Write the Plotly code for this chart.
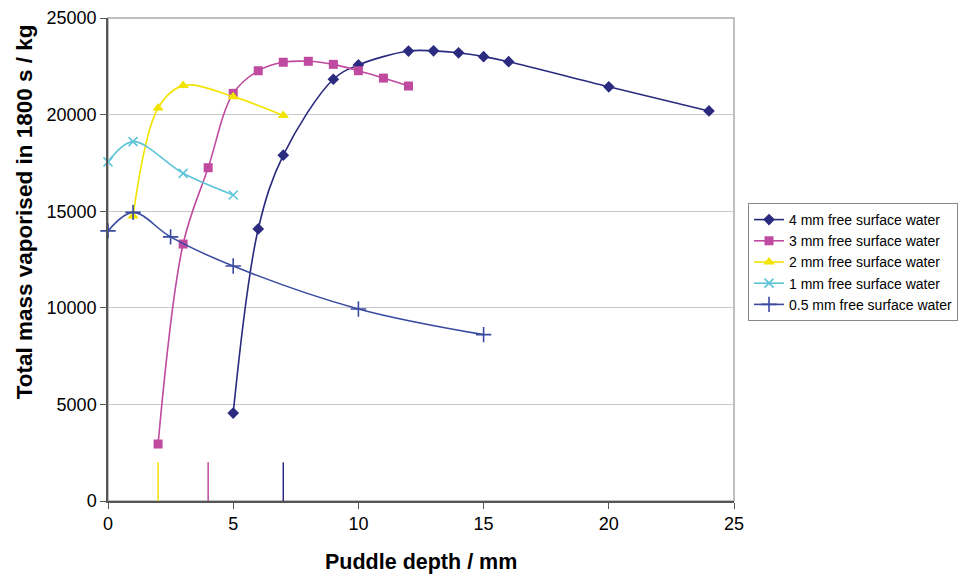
import plotly.graph_objects as go

# Data
x_4mm = [5, 6, 7, 9, 10, 12, 13, 14, 15, 16, 20, 24]
y_4mm = [4550, 14080, 17900, 21830, 22570, 23290, 23300, 23200, 23000, 22740, 21440, 20190]

x_3mm = [2, 3, 4, 5, 6, 7, 8, 9, 10, 11, 12]
y_3mm = [2950, 13300, 17250, 21100, 22270, 22710, 22760, 22600, 22270, 21890, 21480]

x_2mm = [1, 2, 3, 5, 7]
y_2mm = [14750, 20340, 21500, 20930, 19950]

x_1mm = [0, 1, 3, 5]
y_1mm = [17550, 18600, 16960, 15840]

x_05mm = [0, 1, 2.5, 5, 10, 15]
y_05mm = [13980, 14940, 13670, 12160, 9940, 8610]

# vertical reference markers (puddle depth thresholds)
ref_x = [2, 4, 7]
ref_height = 2000

names = ["4 mm free surface water", "3 mm free surface water", "2 mm free surface water",
         "1 mm free surface water", "0.5 mm free surface water"]
colors = ["#2A2A7E", "#BF4AA0", "#F2E400", "#5EC4D8", "#3A4AA0"]
symbols = ["diamond", "square", "triangle-up", "x-thin", "cross-thin"]
sizes = [9, 9, 10, 9, 11]
series = [(x_4mm, y_4mm), (x_3mm, y_3mm), (x_2mm, y_2mm), (x_1mm, y_1mm), (x_05mm, y_05mm)]

fig = go.Figure()
for (xs, ys), n, c, s, sz in zip(series, names, colors, symbols, sizes):
    thin = s.endswith("thin")
    fig.add_trace(go.Scatter(
        x=xs, y=ys, name=n, mode="lines+markers",
        line=dict(color=c, width=1.6, shape="spline", smoothing=1),
        marker=dict(symbol=s, size=sz, color=c,
                    line=dict(color=c, width=1.6 if thin else 0)),
        cliponaxis=False,
    ))

ref_colors = [colors[2], colors[1], colors[0]]
for rx, rc in zip(ref_x, ref_colors):
    fig.add_trace(go.Scatter(
        x=[rx, rx], y=[0, ref_height], mode="lines",
        line=dict(color=rc, width=1.5), showlegend=False, hoverinfo="skip",
    ))

fig.update_layout(
    width=958, height=568,
    margin=dict(l=100, r=232, t=10, b=75, autoexpand=False),
    paper_bgcolor="white", plot_bgcolor="white",
    font=dict(family="Liberation Sans, Arial, sans-serif", color="black"),
    showlegend=True,
    legend=dict(
        x=1.0224, y=0.617, xanchor="left", yanchor="top",
        bordercolor="#888888", borderwidth=1,
        font=dict(size=14), tracegroupgap=0,
    ),
)
fig.update_xaxes(
    range=[0, 25], tick0=0, dtick=5,
    ticks="outside", ticklen=6, tickcolor="#555555",
    showline=True, linecolor="#555555", linewidth=1.5, mirror=False,
    showgrid=False, zeroline=False, automargin=False,
    tickfont=dict(size=18),
)
fig.update_yaxes(
    range=[0, 25000], tick0=0, dtick=5000, tickformat="d",
    ticks="outside", ticklen=6, tickcolor="#555555",
    showline=True, linecolor="#555555", linewidth=1.5,
    showgrid=True, gridcolor="#C8C8C8", gridwidth=1, zeroline=False, automargin=False,
    tickfont=dict(size=18),
)
# axis titles
fig.add_annotation(text="<b>Puddle depth / mm</b>", xref="paper", yref="paper",
                   x=0.5, y=-0.126, xanchor="center", yanchor="middle",
                   showarrow=False, font=dict(size=21.5))
fig.add_annotation(text="<b>Total mass vaporised in 1800 s / kg</b>", xref="paper", yref="paper",
                   x=-0.134, y=0.598, xanchor="center", yanchor="middle", textangle=-90,
                   showarrow=False, font=dict(size=22.5))
# plot-area frame on top and right
fig.add_shape(type="rect", xref="paper", yref="paper", x0=0, y0=0, x1=1, y1=1,
              line=dict(color="#AAAAAA", width=1.5), layer="below")

fig.write_html("out.html")
